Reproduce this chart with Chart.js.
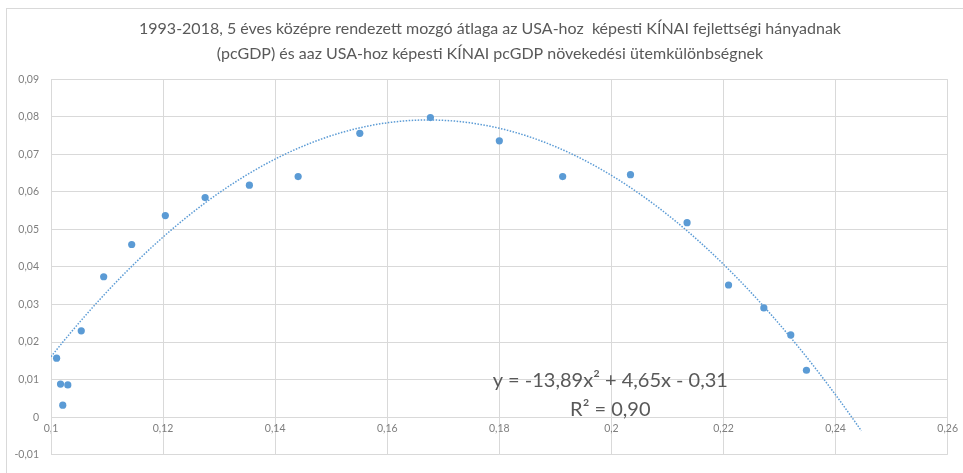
<!DOCTYPE html>
<html>
<head>
<meta charset="utf-8">
<script src="https://cdn.jsdelivr.net/npm/chart.js@4/dist/chart.umd.min.js"></script>
<style>
  html, body { margin: 0; padding: 0; background: #ffffff; }
  #wrap { position: relative; width: 963px; height: 473px; }
</style>
</head>
<body>
<div id="wrap"><canvas id="c" width="963" height="473"></canvas></div>
<script>
// Relative development level (x) and growth-rate difference (y), 1995–2016
const devRatio = [0.1010, 0.1017, 0.1030, 0.1021, 0.1054, 0.1094, 0.1144, 0.1204, 0.1275, 0.1354, 0.1441,
                  0.1551, 0.1677, 0.1800, 0.1913, 0.2034, 0.2135, 0.2209, 0.2272, 0.2320, 0.2348];
const growthGap = [0.0157, 0.0088, 0.0086, 0.0032, 0.0230, 0.0374, 0.0460, 0.0537, 0.0585, 0.0618, 0.0641,
                   0.0756, 0.0798, 0.0736, 0.0641, 0.0646, 0.0518, 0.0352, 0.0291, 0.0219, 0.0125];

// Second-order polynomial trendline: y = a x^2 + b x + c
const trendCoef = [-13.89, 4.65, -0.31];
const trendRange = [0.1, 0.2446];
const trendLabel = ['y = -13,89x² + 4,65x - 0,31', 'R² = 0,90'];

const xTicks = [0.1, 0.12, 0.14, 0.16, 0.18, 0.2, 0.22, 0.24, 0.26];
const yTicks = [-0.01, 0, 0.01, 0.02, 0.03, 0.04, 0.05, 0.06, 0.07, 0.08, 0.09];

const titleLines = [
  '1993-2018, 5 éves középre rendezett mozgó átlaga az USA-hoz  képesti KÍNAI fejlettségi hányadnak',
  '(pcGDP) és aaz USA-hoz képesti KÍNAI pcGDP növekedési ütemkülönbségnek'
];

const points = devRatio.map((x, i) => ({ x: x, y: growthGap[i] }));

const trendPoints = [];
const steps = 120;
for (let i = 0; i <= steps; i++) {
  const x = trendRange[0] + (trendRange[1] - trendRange[0]) * i / steps;
  trendPoints.push({ x: x, y: trendCoef[0] * x * x + trendCoef[1] * x + trendCoef[2] });
}

const fmt = v => String(Number(v.toFixed(2))).replace('.', ',');
const gridColor = '#d9d9d9';
const textColor = '#595959';
const FONT = 'Lato, "Open Sans", sans-serif';

// White background, outer frame and the two-line title
const frame = {
  id: 'frame',
  beforeDraw(chart) {
    const ctx = chart.ctx;
    ctx.save();
    ctx.fillStyle = '#ffffff';
    ctx.fillRect(0, 0, chart.width, chart.height);
    ctx.strokeStyle = '#d9d9d9';
    ctx.lineWidth = 1;
    ctx.strokeRect(6.5, 8.5, 1200, 1200);
    ctx.fillStyle = textColor;
    ctx.font = '16px ' + FONT;
    ctx.textAlign = 'center';
    ctx.textBaseline = 'middle';
    ctx.fillText(titleLines[0], 490, 29);
    ctx.fillText(titleLines[1], 490, 54);
    ctx.restore();
  }
};

// Trendline equation and R² label
const equation = {
  id: 'equation',
  afterDatasetsDraw(chart) {
    const ctx = chart.ctx;
    const xs = chart.scales.x, ys = chart.scales.y;
    const cx = xs.getPixelForValue(0.1998);
    const y1 = ys.getPixelForValue(0.0098);
    ctx.save();
    ctx.fillStyle = textColor;
    ctx.font = '20px ' + FONT;
    ctx.textAlign = 'center';
    ctx.textBaseline = 'middle';
    ctx.fillText(trendLabel[0], cx, y1);
    ctx.fillText(trendLabel[1], cx, y1 + 29);
    ctx.restore();
  }
};

new Chart(document.getElementById('c'), {
  type: 'scatter',
  data: {
    datasets: [
      {
        label: 'trend',
        data: trendPoints,
        showLine: true,
        pointRadius: 0,
        borderColor: '#5b9bd5',
        borderWidth: 1.5,
        borderDash: [1.5, 1.5],
        fill: false,
        order: 2
      },
      {
        label: 'adat',
        data: points,
        pointRadius: 3.6,
        pointBackgroundColor: '#5b9bd5',
        pointBorderColor: '#5b9bd5',
        pointBorderWidth: 0,
        order: 1
      }
    ]
  },
  options: {
    responsive: false,
    animation: false,
    devicePixelRatio: 1,
    layout: { padding: { left: 0, right: 15, top: 79.3, bottom: -6.3 } },
    plugins: {
      legend: { display: false },
      tooltip: { enabled: false },
      title: { display: false }
    },
    scales: {
      x: {
        type: 'linear',
        position: { y: 0 },
        min: 0.1,
        max: 0.26,
        afterBuildTicks(scale) { scale.ticks = xTicks.map(v => ({ value: v })); },
        ticks: {
          color: '#7f7f7f',
          font: { family: FONT, size: 10.5 },
          padding: 5,
          maxRotation: 0,
          callback: v => fmt(v)
        },
        grid: { color: gridColor, lineWidth: 1, drawTicks: false },
        border: { color: gridColor }
      },
      y: {
        type: 'linear',
        min: -0.01,
        max: 0.09,
        afterBuildTicks(scale) { scale.ticks = yTicks.map(v => ({ value: v })); },
        afterFit(scale) { scale.width = 51; },
        ticks: {
          color: '#7f7f7f',
          font: { family: FONT, size: 10.5 },
          padding: 12,
          callback: v => fmt(v)
        },
        grid: { color: gridColor, lineWidth: 1, drawTicks: false },
        border: { color: gridColor }
      }
    }
  },
  plugins: [frame, equation]
});
</script>
</body>
</html>
